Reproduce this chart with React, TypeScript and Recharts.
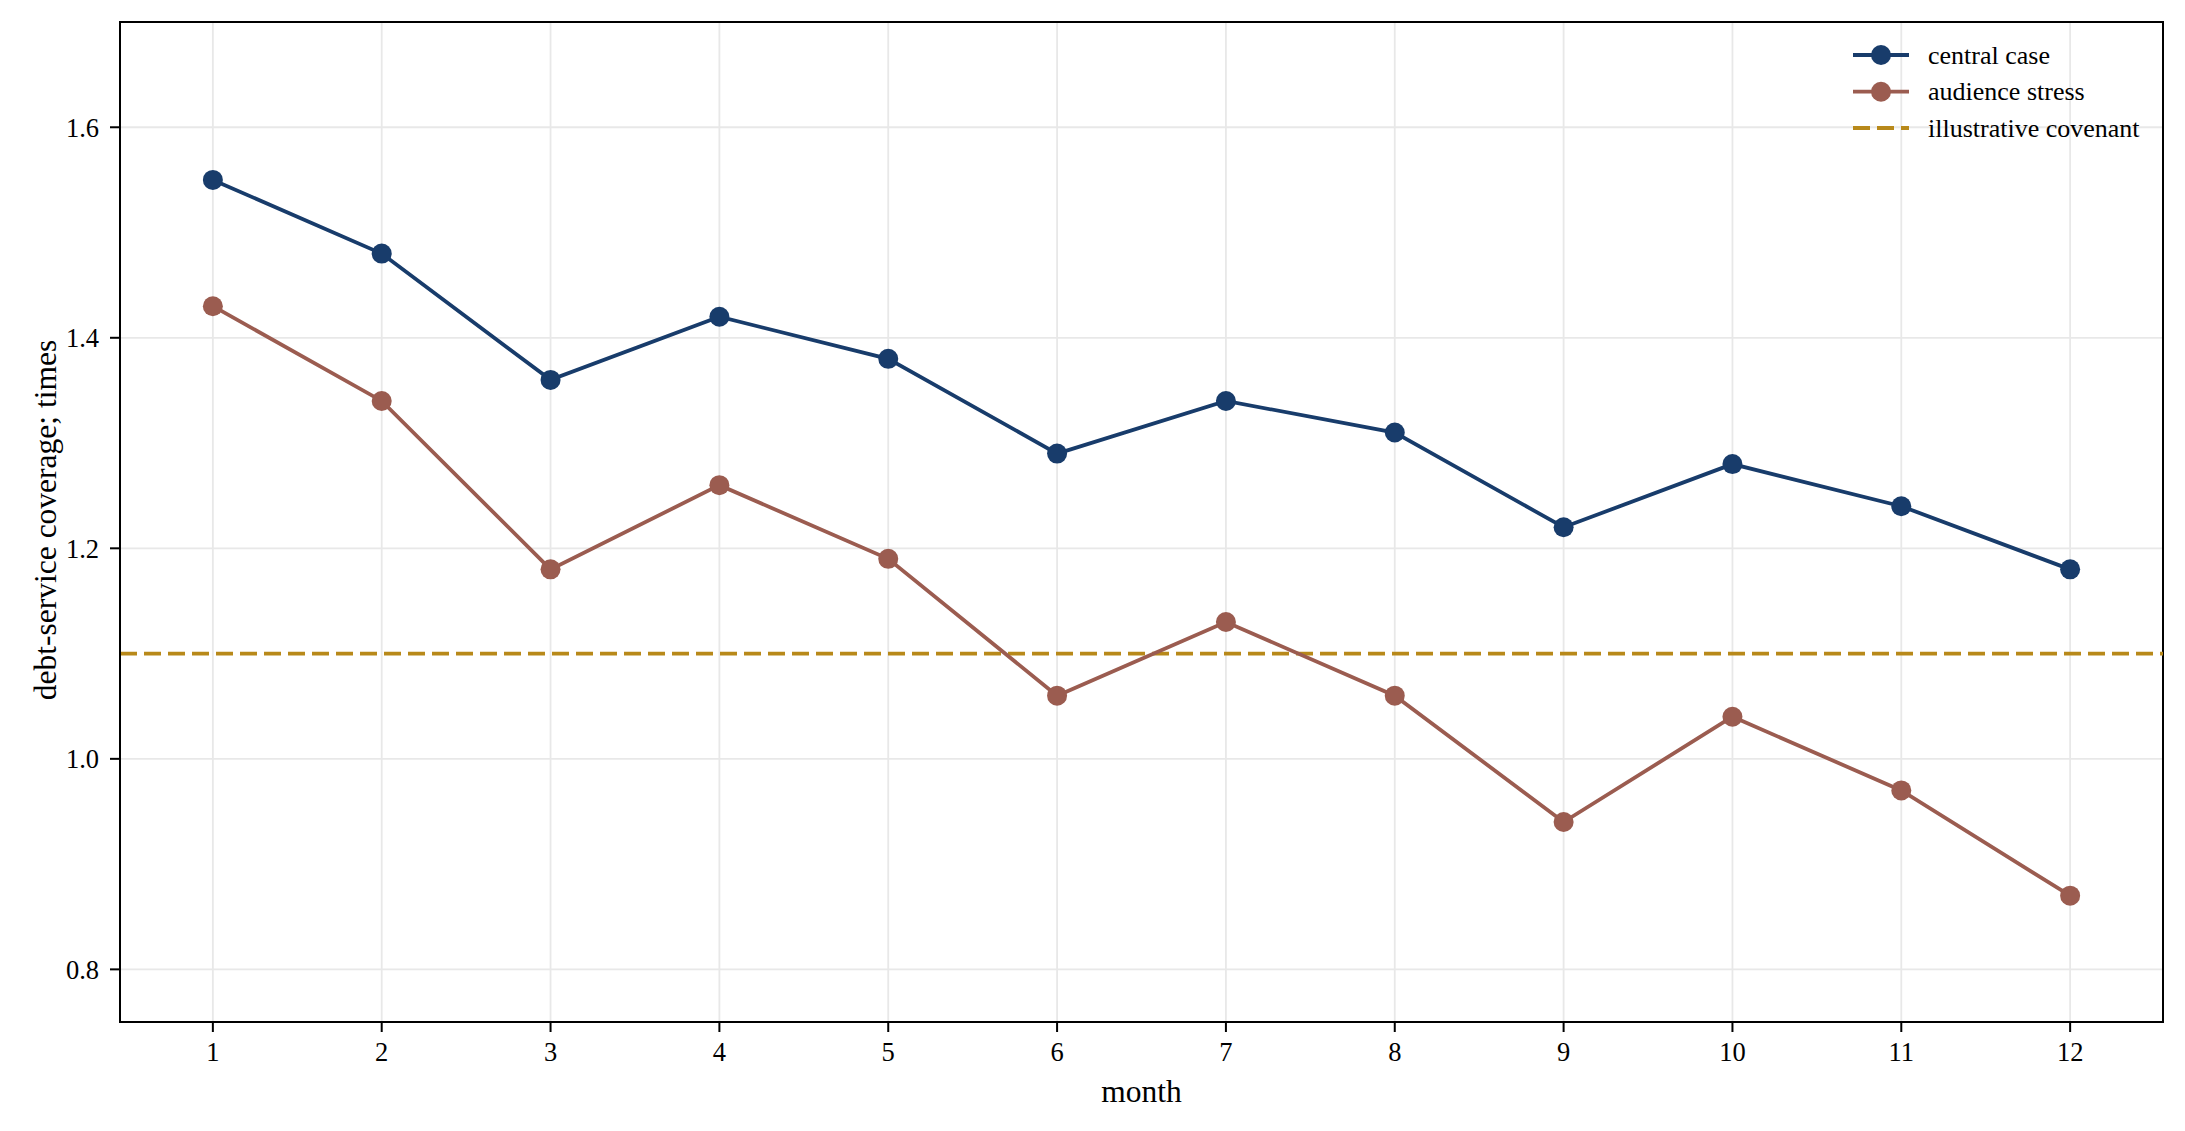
import React from 'react';
import {
  LineChart,
  Line,
  XAxis,
  YAxis,
  CartesianGrid,
  ReferenceLine,
  ReferenceArea,
} from 'recharts';

const months = [1, 2, 3, 4, 5, 6, 7, 8, 9, 10, 11, 12];
const centralCase = [1.55, 1.48, 1.36, 1.42, 1.38, 1.29, 1.34, 1.31, 1.22, 1.28, 1.24, 1.18];
const audienceStress = [1.43, 1.34, 1.18, 1.26, 1.19, 1.06, 1.13, 1.06, 0.94, 1.04, 0.97, 0.87];
const covenant = 1.1;
const yTicks = [0.8, 1.0, 1.2, 1.4, 1.6];
const xTicks = months;
const xDomain: [number, number] = [0.45, 12.55];
const yDomain: [number, number] = [0.75, 1.7];

const seriesNames = ['central case', 'audience stress', 'illustrative covenant'];
const colors = { central: '#183c6b', stress: '#9b5c50', covenant: '#b8891a' };

const data = months.map((m, i) => ({ month: m, central: centralCase[i], stress: audienceStress[i] }));

const FONT = '"Liberation Serif", "DejaVu Serif", serif';
const W = 2177;
const H = 1123;
const LW = 3.8;

const renderYLabel = () => {
  const cx = 48;
  const cy = 512;
  return (
    <text
      x={cx}
      y={cy}
      transform={`rotate(-90, ${cx}, ${cy})`}
      textAnchor="middle"
      fontFamily={FONT}
      fontSize={31.5}
      fill="#000"
    >
      debt-service coverage; times
    </text>
  );
};

const renderXLabel = (props: any) => {
  const vb = props.viewBox || {};
  const cx = (vb.x ?? 112) + (vb.width ?? 2043) / 2;
  return (
    <text x={cx} y={1094} textAnchor="middle" fontFamily={FONT} fontSize={31.5} fill="#000">
      month
    </text>
  );
};

function LegendBox() {
  const rows = [
    { name: seriesNames[0], color: colors.central, dashed: false },
    { name: seriesNames[1], color: colors.stress, dashed: false },
    { name: seriesNames[2], color: colors.covenant, dashed: true },
  ];
  const rowY = [27, 63.7, 100];
  return (
    <svg
      width={320}
      height={125}
      style={{ position: 'absolute', left: 1840, top: 20, display: 'block', overflow: 'visible' }}
    >
      {rows.map((r, i) => (
        <g key={r.name}>
          <line
            x1={5}
            x2={61}
            y1={rowY[i]}
            y2={rowY[i]}
            stroke={r.color}
            strokeWidth={LW}
            strokeDasharray={r.dashed ? '17 7' : undefined}
          />
          {!r.dashed && <circle cx={33} cy={rowY[i]} r={10} fill={r.color} />}
          <text x={80} y={rowY[i] + 8.5} fontFamily={FONT} fontSize={26} fill="#000">
            {r.name}
          </text>
        </g>
      ))}
    </svg>
  );
}

export default function App() {
  return (
    <div style={{ position: 'relative', width: W, height: H, background: '#fff', fontFamily: FONT }}>
      <LineChart
        width={W}
        height={H}
        data={data}
        margin={{ top: 14, right: 22, left: 0, bottom: 0 }}
        style={{ fontFamily: FONT }}
      >
        <CartesianGrid stroke="#e8e8e8" strokeWidth={1.8} horizontal vertical />
        <XAxis
          dataKey="month"
          type="number"
          domain={xDomain}
          ticks={xTicks}
          interval={0}
          height={109}
          tickSize={10}
          tickMargin={10}
          axisLine={{ stroke: '#000', strokeWidth: 2 }}
          tickLine={{ stroke: '#000', strokeWidth: 2 }}
          tick={{ fill: '#000', fontSize: 26.5, fontFamily: FONT }}
          allowDataOverflow
          label={renderXLabel}
        />
        <YAxis
          type="number"
          domain={yDomain}
          ticks={yTicks}
          interval={0}
          width={112}
          tickSize={10}
          tickMargin={11}
          tickFormatter={(v: number) => v.toFixed(1)}
          axisLine={{ stroke: '#000', strokeWidth: 2 }}
          tickLine={{ stroke: '#000', strokeWidth: 2 }}
          tick={{ fill: '#000', fontSize: 26.5, fontFamily: FONT }}
          allowDataOverflow
          label={renderYLabel}
        />
        <ReferenceLine
          y={covenant}
          stroke={colors.covenant}
          strokeWidth={LW}
          strokeDasharray="17 7"
        />
        <Line
          type="linear"
          dataKey="central"
          name={seriesNames[0]}
          stroke={colors.central}
          strokeWidth={LW}
          dot={{ r: 10, fill: colors.central, stroke: 'none', strokeWidth: 0 }}
          activeDot={false}
          isAnimationActive={false}
        />
        <Line
          type="linear"
          dataKey="stress"
          name={seriesNames[1]}
          stroke={colors.stress}
          strokeWidth={LW}
          dot={{ r: 10, fill: colors.stress, stroke: 'none', strokeWidth: 0 }}
          activeDot={false}
          isAnimationActive={false}
        />
        <ReferenceArea
          x1={xDomain[0]}
          x2={xDomain[1]}
          y1={yDomain[0]}
          y2={yDomain[1]}
          fill="none"
          fillOpacity={0}
          stroke="#000"
          strokeWidth={2}
          ifOverflow="visible"
        />
      </LineChart>
      <LegendBox />
    </div>
  );
}
